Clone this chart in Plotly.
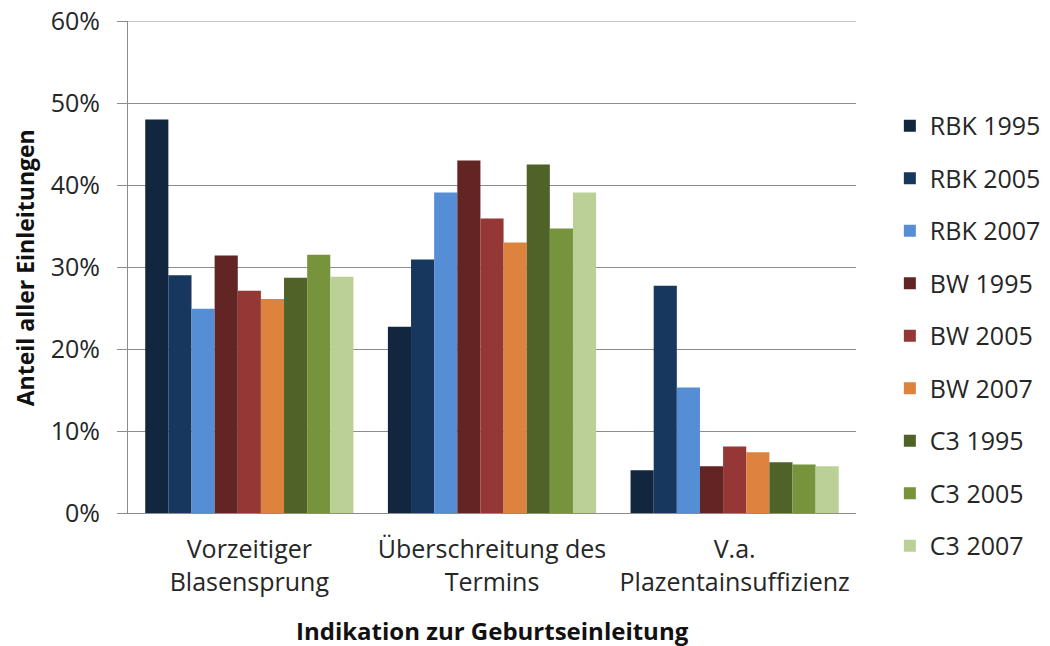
import plotly.graph_objects as go

categories = ["Vorzeitiger<br>Blasensprung", "Überschreitung des<br>Termins", "V.a.<br>Plazentainsuffizienz"]
series_names = ["RBK 1995", "RBK 2005", "RBK 2007", "BW 1995", "BW 2005", "BW 2007", "C3 1995", "C3 2005", "C3 2007"]
rbk_1995 = [0.480, 0.227, 0.052]
rbk_2005 = [0.290, 0.309, 0.277]
rbk_2007 = [0.249, 0.391, 0.153]
bw_1995 = [0.314, 0.430, 0.057]
bw_2005 = [0.271, 0.359, 0.081]
bw_2007 = [0.261, 0.330, 0.074]
c3_1995 = [0.287, 0.425, 0.062]
c3_2005 = [0.315, 0.347, 0.059]
c3_2007 = [0.288, 0.391, 0.057]
values = [rbk_1995, rbk_2005, rbk_2007, bw_1995, bw_2005, bw_2007, c3_1995, c3_2005, c3_2007]
colors = ["#12263F", "#17375E", "#558ED5", "#632523", "#953735", "#DD833E", "#4F6228", "#77933C", "#BBD097"]
y_ticks = [0, 0.1, 0.2, 0.3, 0.4, 0.5, 0.6]
y_max = 0.6

y_title = "Anteil aller Einleitungen"
x_title = "Indikation zur Geburtseinleitung"

FONT = "'Open Sans', Lato, sans-serif"
TXT = "#262626"
GRID = "#8C8C8C"

fig = go.Figure()
for name, vals, col in zip(series_names, values, colors):
    fig.add_trace(go.Bar(
        x=categories, y=vals, name=name, legendgroup=name,
        marker=dict(color=col, line=dict(width=0)),
    ))

fig.update_layout(
    width=1050, height=646,
    margin=dict(l=120, r=199, t=13, b=141),
    paper_bgcolor="white", plot_bgcolor="white",
    barmode="group", bargap=0.142, bargroupgap=0,
    font=dict(family=FONT, size=25, color=TXT),
    legend=dict(
        x=1.0465, y=0.36, xanchor="left", yanchor="middle",
        font=dict(family=FONT, size=25, color=TXT),
        tracegroupgap=17, itemwidth=30,
    ),
    showlegend=True,
    shapes=[
        dict(type="line", xref="paper", yref="y", x0=0, x1=1, y0=y_max, y1=y_max,
             line=dict(color=GRID, width=1), layer="below"),
    ],
    annotations=[
        dict(text="<b>" + y_title + "</b>", xref="paper", yref="paper",
             x=-0.141, y=0.498, xanchor="center", yanchor="middle",
             textangle=-90, showarrow=False,
             font=dict(family=FONT, size=23, color="#111111")),
        dict(text="<b>" + x_title + "</b>", xref="paper", yref="paper",
             x=0.5, y=-0.238, xanchor="center", yanchor="middle",
             showarrow=False,
             font=dict(family=FONT, size=24, color="#111111")),
    ],
)
fig.update_yaxes(
    range=[0, y_max], tickmode="array", tickvals=y_ticks, tickformat=".0%",
    showgrid=True, gridcolor=GRID, gridwidth=1,
    showline=True, linecolor=GRID, linewidth=1,
    ticks="outside", ticklen=10, tickcolor=GRID,
    tickfont=dict(family=FONT, size=25, color=TXT),
    ticklabelstandoff=12, ticklabeloverflow="allow",
    zeroline=False, automargin=False,
)
fig.update_xaxes(
    showline=True, linecolor=GRID, linewidth=1,
    ticks="", tickfont=dict(family=FONT, size=25, color=TXT),
    ticklabelstandoff=14, automargin=False, ticklabeloverflow="allow",
)

fig.write_html("out.html")
